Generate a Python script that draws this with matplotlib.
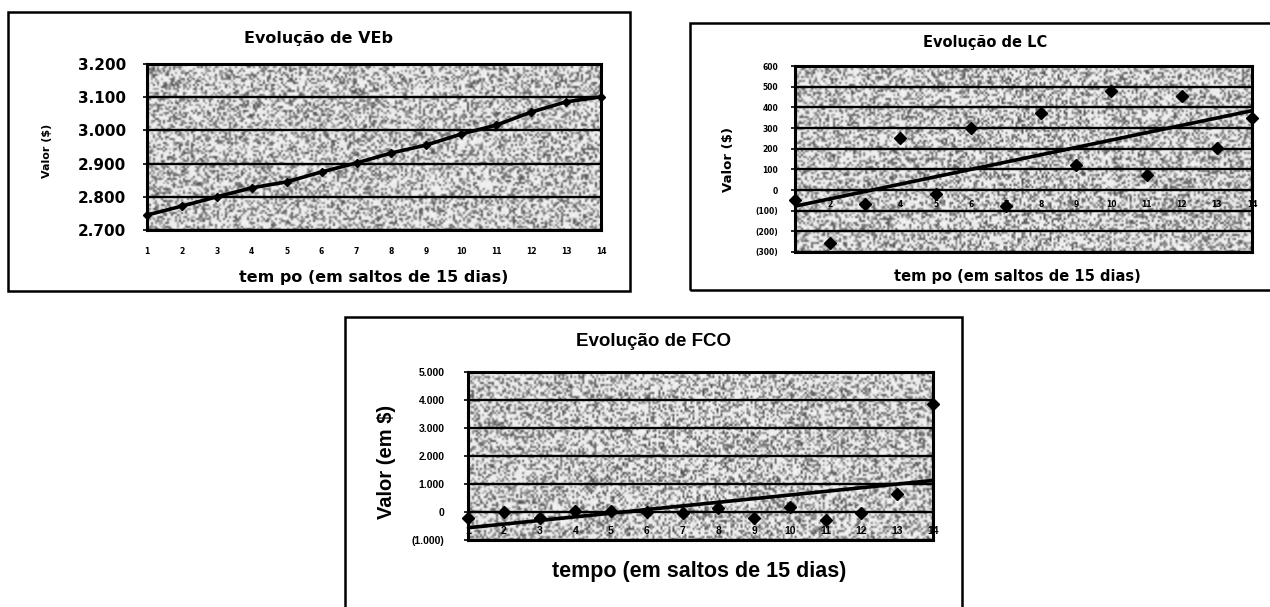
import numpy as np
import matplotlib
matplotlib.use("Agg")
import matplotlib.pyplot as plt
from matplotlib.patches import Rectangle

# ---- data -------------------------------------------------------------
periods = list(range(1, 15))

veb = [2745, 2772, 2800, 2827, 2845, 2875, 2902, 2932, 2956, 2989, 3016, 3055, 3086, 3101]
lc = [-50, -255, -70, 250, -20, 300, -75, 375, 120, 480, 75, 455, 205, 350]
fco = [-200, 0, -200, 50, 50, 0, -50, 150, -200, 180, -300, -30, 650, 3850]

veb_ticks = [2700, 2800, 2900, 3000, 3100, 3200]
veb_tick_labels = ["2.700", "2.800", "2.900", "3.000", "3.100", "3.200"]
lc_ticks = [-300, -200, -100, 0, 100, 200, 300, 400, 500, 600]
lc_tick_labels = ["(300)", "(200)", "(100)", "0", "100", "200", "300", "400", "500", "600"]
fco_ticks = [-1000, 0, 1000, 2000, 3000, 4000, 5000]
fco_tick_labels = ["(1.000)", "0", "1.000", "2.000", "3.000", "4.000", "5.000"]

titles = ["Evolução de VEb", "Evolução de LC", "Evolução de FCO"]
x_title = "tem po (em saltos de 15 dias)"
y_titles = ["Valor ($)", "Valor ($)", "Valor (em $)"]

# ---- layout helpers ---------------------------------------------------
W, H = 1270, 607
fig = plt.figure(figsize=(W / 100, H / 100), dpi=100)
fig.patch.set_facecolor("white")


def rect(l, t, r, b):
    return [l / W, 1 - b / H, (r - l) / W, (b - t) / H]


def ftext(x, y, s, **kw):
    fig.text(x / W, 1 - y / H, s, ha="center", va="center", **kw)


def frame(l, t, r, b):
    fig.patches.append(Rectangle((l / W, 1 - b / H), (r - l) / W, (b - t) / H,
                                 transform=fig.transFigure, fill=False,
                                 edgecolor="black", lw=1.8, zorder=0))


def stippled_axes(pos, seed):
    # speckled grey plot-area fill, drawn on its own axes underneath
    bg = fig.add_axes(pos, zorder=0)
    rng = np.random.default_rng(seed)
    w = int(pos[2] * W / 2.0)
    h = int(pos[3] * H / 2.0)
    base = 0.90 + 0.06 * rng.random((h, w))
    dots = rng.random((h, w))
    img = np.where(dots < 0.42, 0.30 + 0.40 * rng.random((h, w)), base)
    bg.imshow(img, cmap="gray", vmin=0, vmax=1, aspect="auto",
              interpolation="bilinear")
    bg.axis("off")
    ax = fig.add_axes(pos, zorder=1)
    ax.patch.set_visible(False)
    return ax


def style_axes(ax, family, ytick_size, ypad):
    for s in ax.spines.values():
        s.set_linewidth(2.2)
        s.set_color("black")
    ax.yaxis.grid(True, color="black", lw=1.7)
    ax.set_axisbelow(False)
    ax.tick_params(axis="y", length=3, width=1.2, pad=ypad,
                   labelsize=ytick_size)
    for lab in ax.get_yticklabels():
        lab.set_fontweight("bold")
        lab.set_family(family)


# ---- chart 1: VEb -----------------------------------------------------
frame(8, 12, 630, 291)
ax1 = stippled_axes(rect(147, 64, 601, 230), 11)
ax1.plot(periods, veb, color="black", lw=2.6, marker="D", ms=4.5,
         clip_on=False, zorder=3)
ax1.set_xlim(1, 14)
ax1.set_ylim(2700, 3200)
ax1.set_yticks(veb_ticks)
ax1.set_yticklabels(veb_tick_labels)
ax1.set_xticks(periods)
ax1.set_xticklabels([str(p) for p in periods], fontsize=5.5,
                    fontweight="bold", family="DejaVu Sans")
ax1.tick_params(axis="x", length=0, pad=12)
style_axes(ax1, "DejaVu Sans", 11, 12)
ftext(318, 38, titles[0], fontsize=11.5, fontweight="bold", family="DejaVu Sans")
ftext(374, 278, x_title, fontsize=11.5, fontweight="bold", family="DejaVu Sans")
ftext(47, 151, y_titles[0], fontsize=8, fontweight="bold", rotation=90,
      family="DejaVu Sans")

# ---- chart 2: LC ------------------------------------------------------
frame(690, 23, 1290, 290)
ax2 = stippled_axes(rect(795, 66, 1252, 252), 22)
c2 = np.polyfit(periods, lc, 1)
ax2.plot([1, 14], np.polyval(c2, [1, 14]), color="black", lw=2.6, zorder=3)
ax2.plot(periods, lc, ls="none", marker="D", ms=6, color="black",
         clip_on=False, zorder=4)
ax2.set_xlim(1, 14)
ax2.set_ylim(-300, 600)
ax2.set_yticks(lc_ticks)
ax2.set_yticklabels(lc_tick_labels)
ax2.set_xticks([])
for p in periods:
    ax2.annotate(str(p), xy=(p, 0), xytext=(0, -7), textcoords="offset points",
                 ha="center", va="top", fontsize=5.5, fontweight="bold",
                 family="DejaVu Sans", zorder=5)
style_axes(ax2, "DejaVu Sans", 5.5, 9)
ftext(985, 43, titles[1], fontsize=10.5, fontweight="bold", family="DejaVu Sans")
ftext(1017, 276, x_title, fontsize=10.5, fontweight="bold", family="DejaVu Sans")
ftext(728, 160, y_titles[1], fontsize=9.5, fontweight="bold", rotation=90,
      family="DejaVu Sans")

# ---- chart 3: FCO -----------------------------------------------------
frame(345, 317, 962, 620)
ax3 = stippled_axes(rect(468, 372, 933, 540), 33)
c3 = np.polyfit(periods, fco, 1)
ax3.plot([1, 14], np.polyval(c3, [1, 14]), color="black", lw=2.6, zorder=3)
ax3.plot(periods, fco, ls="none", marker="D", ms=6, color="black",
         clip_on=False, zorder=4)
ax3.set_xlim(1, 14)
ax3.set_ylim(-1000, 5000)
ax3.set_yticks(fco_ticks)
ax3.set_yticklabels(fco_tick_labels)
ax3.set_xticks([])
for p in periods:
    ax3.annotate(str(p), xy=(p, 0), xytext=(0, -10), textcoords="offset points",
                 ha="center", va="top", fontsize=7.5, fontweight="bold",
                 family="Liberation Sans", zorder=5)
style_axes(ax3, "Liberation Sans", 7.5, 14)
ftext(654, 341, titles[2], fontsize=13.5, fontweight="bold", family="Liberation Sans")
ftext(699, 571, "tempo (em saltos de 15 dias)", fontsize=15.5, fontweight="bold",
      family="Liberation Sans")
ftext(387, 462, y_titles[2], fontsize=14.5, fontweight="bold", rotation=90,
      family="Liberation Sans")

fig.savefig("out.png", dpi=100, facecolor="white")
